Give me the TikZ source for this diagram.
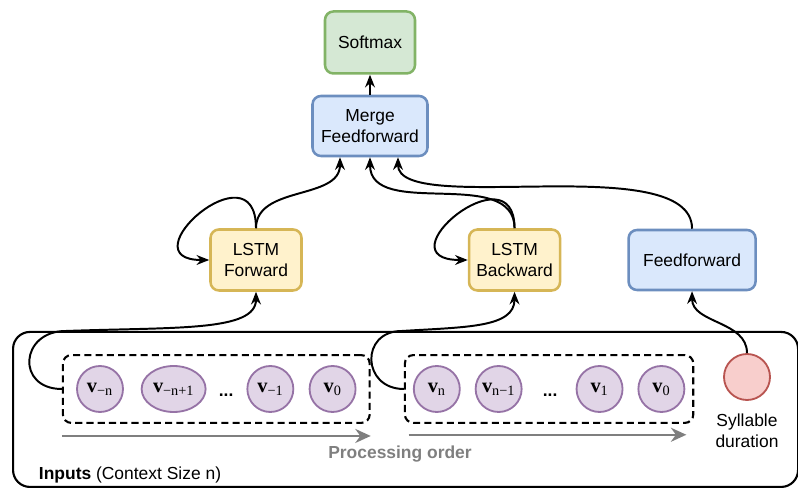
\documentclass[tikz,border=0pt]{standalone}
\usepackage{fontspec}
\setmainfont{Liberation Sans}
\newfontfamily\serifv{Liberation Serif}
\usetikzlibrary{arrows.meta, shapes.geometric, fit, positioning}

\definecolor{softfill}{HTML}{D5E8D4}
\definecolor{softdraw}{HTML}{82B366}
\definecolor{mergefill}{HTML}{DAE8FC}
\definecolor{mergedraw}{HTML}{6C8EBF}
\definecolor{lstmfill}{HTML}{FFF2CC}
\definecolor{lstmdraw}{HTML}{D6B656}
\definecolor{vfill}{HTML}{E1D5E7}
\definecolor{vdraw}{HTML}{9673A6}
\definecolor{sylfill}{HTML}{F8CECC}
\definecolor{syldraw}{HTML}{B85450}
\definecolor{ordergray}{HTML}{7F7F7F}

\begin{document}
\begin{tikzpicture}[
    txt/.style={font=\fontsize{12.4}{14.6}\selectfont},
    box/.style={
        txt, rectangle, rounded corners=6pt,
        text centered, align=center,
        line width=1.8pt
    },
    softbox/.style ={box, fill=softfill,  draw=softdraw,  minimum width=2.25cm,  minimum height=1.55cm},
    mergebox/.style={box, fill=mergefill, draw=mergedraw, minimum width=2.875cm, minimum height=1.5cm},
    lstmbox/.style ={box, fill=lstmfill,  draw=lstmdraw,  minimum width=2.275cm, minimum height=1.525cm},
    ffbox/.style   ={box, fill=mergefill, draw=mergedraw, minimum width=3.175cm, minimum height=1.5cm},
    vnode/.style={
        circle, fill=vfill, draw=vdraw, line width=1.3pt,
        minimum size=1.15cm, inner sep=0pt,
        font=\serifv\fontsize{14.5}{16}\selectfont
    },
    vwide/.style={vnode, ellipse, minimum width=1.6cm, minimum height=1.15cm},
    sylnode/.style={circle, fill=sylfill, draw=syldraw, line width=1.3pt, minimum size=1.15cm},
    dotnode/.style={inner sep=0pt, text height=2ex, text depth=0pt, font=\fontsize{12.4}{14.6}\selectfont\bfseries},
    grpbox/.style={
        draw, dash pattern=on 5pt off 3pt, line width=1.5pt,
        rounded corners=6pt, inner ysep=0.25cm
    },
    inframe/.style={draw, line width=1.5pt, rounded corners=12pt},
    arr/.style={-{Stealth[length=9pt,width=7pt]}, line width=1.4pt},
    order/.style={-{Stealth[length=11pt,width=10pt]}, line width=1.6pt, color=ordergray},
]
\useasboundingbox (0,0) rectangle (19.95,12.275);

% TOP
\node[mergebox] (merge) at (9.25,9.125) {Merge\\Feedforward};
\node[softbox, above=0.5cm of merge] (softmax) {Softmax};

\node[lstmbox] (fwd) at (6.4,5.775) {LSTM\\Forward};
\node[lstmbox, right=4.125cm of fwd] (bwd) {LSTM\\Backward};
\node[ffbox, right=1.65cm of bwd] (ff) {Feedforward};

% INPUTS
\node[inframe, anchor=south west, minimum width=19.625cm, minimum height=3.875cm] (inputs) at (0.3,0.075) {};
\node[txt, anchor=west] (inlabel) at (0.85,0.4) {\textbf{Inputs} (Context Size n)};

\node[vnode] (vmn) at (2.5,2.55) {\textbf{v}\textsubscript{−n}};
\node[vwide, right=0.42cm of vmn] (vmn1) {\textbf{v}\textsubscript{−n+1}};
\node[dotnode, right=0.3cm of vmn1] (dotsa) {...};
\node[vnode, right=0.32cm of dotsa] (vm1) {\textbf{v}\textsubscript{−1}};
\node[vnode, right=0.36cm of vm1] (v0a) {\textbf{v}\textsubscript{0}};

\node[vnode] (vn) at (10.92,2.55) {\textbf{v}\textsubscript{n}};
\node[vnode, right=0.35cm of vn] (vn1) {\textbf{v}\textsubscript{n−1}};
\node[dotnode, right=0.5cm of vn1] (dotsb) {...};
\node[vnode, right=0.45cm of dotsb] (v1) {\textbf{v}\textsubscript{1}};
\node[vnode, right=0.35cm of v1] (v0b) {\textbf{v}\textsubscript{0}};

\node[grpbox, fit=(vmn)(v0a), inner xsep=0.33cm] (grp1) {};
\node[grpbox, fit=(vn)(v0b), inner xsep=0.2cm] (grp2) {};

\node[sylnode] (syl) at (18.675,2.85) {};
\node[txt, below=0.2cm of syl, align=center] (syllab) {Syllable\\duration};

\draw[order] ([yshift=-0.3cm]grp1.south west) -- ([yshift=-0.3cm]grp1.south east);
\draw[order] ([xshift=0.12cm,yshift=-0.27cm]grp2.south west) -- ([xshift=-0.2cm,yshift=-0.27cm]grp2.south east);
\node[txt, font=\fontsize{12.4}{14.6}\selectfont\bfseries, text=ordergray] (procord) at (10,0.92) {Processing order};

% CONNECTORS
\draw[arr] (merge.north) -- (softmax.south);

\draw[arr] (fwd.north) .. controls +(0,2.1) and +(-2.1,0) .. (fwd.west);
\draw[arr] (fwd.north) to[out=90, in=-90] ([xshift=-0.75cm]merge.south);

\draw[arr] (bwd.north) .. controls +(0,2.0) and +(-2.2,0) .. (bwd.west);
\draw[arr] (bwd.north) to[out=90, in=-90] (merge.south);

\draw[arr] (ff.north) .. controls +(0,2) and +(0,-1.5) .. ([xshift=0.7cm]merge.south);

\draw[arr] (grp1.west) .. controls +(-1.15,0) and +(-1.15,0) .. ++(0.1,1.45)
    .. controls +(2.75,0.1) and +(0,-1) .. (fwd.south);
\draw[arr] (grp2.west) .. controls +(-1.05,0) and +(-1.05,0) .. ++(-0.05,1.45)
    .. controls +(1.6,0.1) and +(0,-0.9) .. (bwd.south);

\draw[arr] (syl.north) to[out=90, in=-90] (ff.south);

\end{tikzpicture}
\end{document}
